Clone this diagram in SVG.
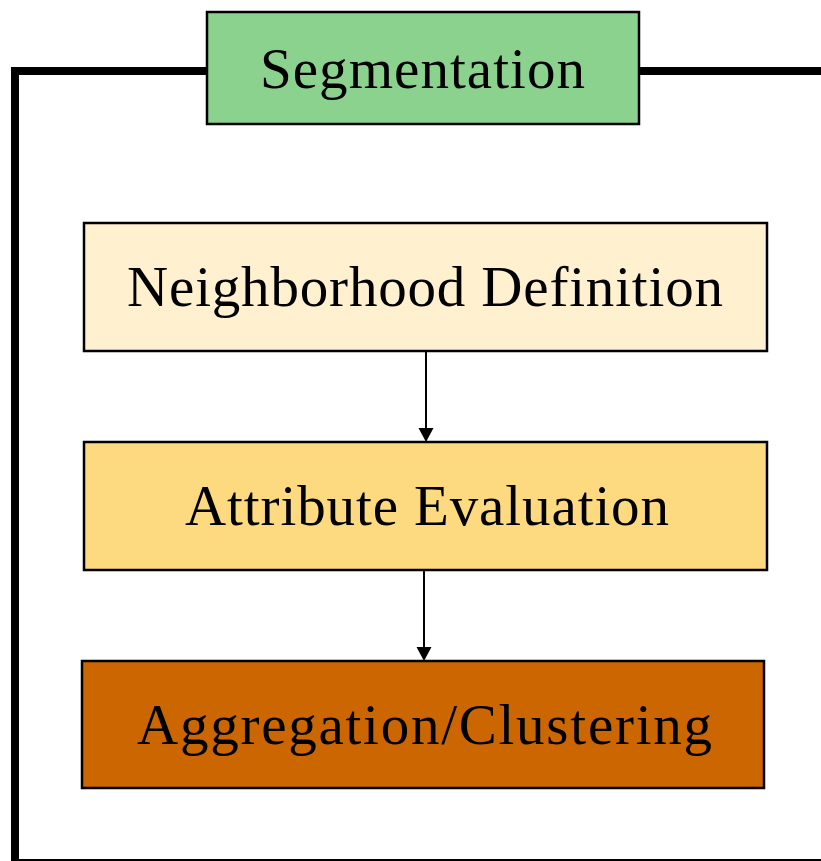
<svg xmlns="http://www.w3.org/2000/svg" width="821" height="861" viewBox="0 0 821 861">
  <defs>
    <style>
      .box { stroke: #000; stroke-width: 2.5; }
      .lbl { font-family: "Liberation Serif", "DejaVu Serif", serif; font-size: 57px; fill: #000; text-anchor: middle; }
      .link { stroke: #000; stroke-width: 2; fill: none; }
      .head { fill: #000; }
    </style>
  </defs>
  <rect width="821" height="861" fill="#fff"/>

  <!-- outer frame of the segmentation stage -->
  <g id="frame">
    <path d="M 900 71 H 15 V 863 H 900" fill="none" stroke="#000" stroke-width="8"/>
  </g>

  <g id="connectors">
    <line class="link" x1="426" y1="351" x2="426" y2="429"/>
    <polygon class="head" points="418.5,428 433.5,428 426,442"/>
    <line class="link" x1="424" y1="570" x2="424" y2="648"/>
    <polygon class="head" points="416.5,647 431.5,647 424,661"/>
  </g>

  <g id="segmentation">
    <rect class="box" x="207" y="12" width="432" height="112" fill="#8CD28F"/>
    <text class="lbl" x="422.5" y="88" textLength="325">Segmentation</text>
  </g>

  <g id="neighborhood-definition">
    <rect class="box" x="84" y="223" width="683" height="128" fill="#FFF1CF"/>
    <text class="lbl" x="425" y="306" textLength="596">Neighborhood Definition</text>
  </g>

  <g id="attribute-evaluation">
    <rect class="box" x="84" y="442" width="683" height="128" fill="#FDDA80"/>
    <text class="lbl" x="427" y="525" textLength="484">Attribute Evaluation</text>
  </g>

  <g id="aggregation-clustering">
    <rect class="box" x="82" y="661" width="682" height="127" fill="#CC6600"/>
    <text class="lbl" x="424.5" y="744" textLength="575">Aggregation/Clustering</text>
  </g>
</svg>
